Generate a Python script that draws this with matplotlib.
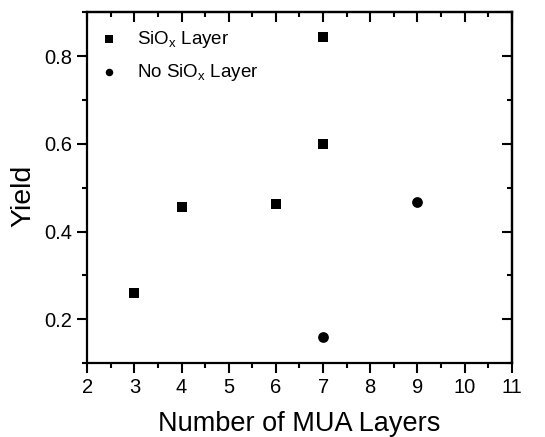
import matplotlib
matplotlib.use("Agg")
import matplotlib.pyplot as plt
from matplotlib.ticker import MultipleLocator

# ------------------------------------
# Data
# ------------------------------------
siox_layers = [3, 4, 6, 7, 7]
siox_yield = [0.26, 0.455, 0.463, 0.60, 0.843]

no_siox_layers = [7, 9]
no_siox_yield = [0.16, 0.467]

x_ticks = [2, 3, 4, 5, 6, 7, 8, 9, 10, 11]
y_ticks = [0.2, 0.4, 0.6, 0.8]

# ------------------------------------
# Style
# ------------------------------------
plt.rcParams['font.family'] = ['Liberation Sans', 'DejaVu Sans']
plt.rcParams['mathtext.fontset'] = 'custom'
plt.rcParams['mathtext.rm'] = 'Liberation Sans'
plt.rcParams['mathtext.it'] = 'Liberation Sans'

fig = plt.figure(figsize=(5.45, 4.37), dpi=100)
ax = fig.add_axes([0.16, 0.169, 0.779, 0.803])

ax.scatter(siox_layers, siox_yield, marker='s', s=52, color='black',
           linewidths=0, label=r'SiO$_\mathrm{x}$ Layer')
ax.scatter(no_siox_layers, no_siox_yield, marker='o', s=60, color='black',
           linewidths=0, label=r'No SiO$_\mathrm{x}$ Layer')

ax.set_xlim(2, 11)
ax.set_ylim(0.1, 0.9)
ax.set_xticks(x_ticks)
ax.set_yticks(y_ticks)
ax.xaxis.set_minor_locator(MultipleLocator(0.5))
ax.yaxis.set_minor_locator(MultipleLocator(0.1))

ax.tick_params(which='both', direction='out', width=1.5, labelsize=14.5)
ax.tick_params(which='major', length=7)
ax.tick_params(which='minor', length=3.5)
for sp in ax.spines.values():
    sp.set_linewidth(1.6)

# mirrored ticks on top and right pointing inward
top = ax.secondary_xaxis('top')
top.set_xticks(x_ticks)
top.xaxis.set_minor_locator(MultipleLocator(0.5))
top.tick_params(which='both', direction='in', width=1.5, labeltop=False)
top.tick_params(which='major', length=7)
top.tick_params(which='minor', length=3.5)
top.spines['top'].set_linewidth(1.6)

right = ax.secondary_yaxis('right')
right.set_yticks(y_ticks)
right.yaxis.set_minor_locator(MultipleLocator(0.1))
right.tick_params(which='both', direction='in', width=1.5, labelright=False)
right.tick_params(which='major', length=7)
right.tick_params(which='minor', length=3.5)
right.spines['right'].set_linewidth(1.6)

ax.set_xlabel("Number of MUA Layers", fontsize=19.5)
ax.set_ylabel("Yield", fontsize=20.5)
ax.xaxis.set_label_coords(0.5, -0.135)
ax.yaxis.set_label_coords(-0.12, 0.476)

ax.legend(loc='upper left', frameon=False, fontsize=13.5, markerscale=0.7,
          handlelength=1.0, handletextpad=1.0, borderpad=0, borderaxespad=0,
          labelspacing=0.65, bbox_to_anchor=(0.03, 0.953))

fig.savefig("out.png", dpi=100)
